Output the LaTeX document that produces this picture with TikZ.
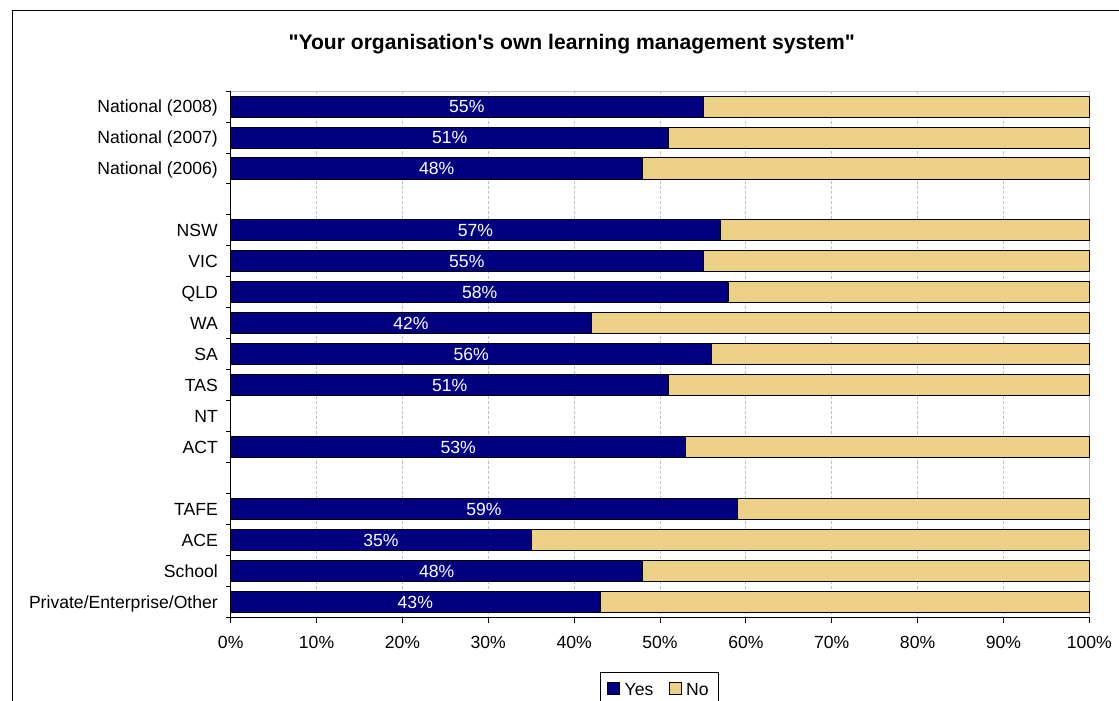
\documentclass[tikz,border=0pt]{standalone}
\usepackage{fontspec}
\setmainfont{Liberation Sans}[Ligatures=TeXOff]
\definecolor{yesblue}{RGB}{0,0,128}
\definecolor{notan}{RGB}{236,208,134}
\definecolor{gridgray}{RGB}{192,192,192}

\begin{document}
\begin{tikzpicture}[
    x=1pt, y=-1pt,
    lab/.style={font=\fontsize{17.6}{20}\selectfont, inner sep=0pt},
    catlab/.style={lab, anchor=base east},
    pctlab/.style={lab, anchor=base, text=white},
    axlab/.style={lab, anchor=base},
    yesbar/.style={draw=black, line width=0.8pt, fill=yesblue},
    nobar/.style={draw=black, line width=0.8pt, fill=notan},
    gridline/.style={gridgray, line width=0.8pt, dash pattern=on 3pt off 2pt},
    keybox/.style={draw=black, line width=0.8pt, minimum size=12pt, inner sep=0pt}
]
    \useasboundingbox (0,0) rectangle (1119,701);
    \clip (0,0) rectangle (1119,701);
    % chart frame (runs off the page right and bottom)
    \draw[line width=1pt] (12.5,10.5) rectangle (1130,712);
    \node[font=\fontsize{21.1}{24}\selectfont\bfseries, anchor=base, inner sep=0pt] (title)
        at (571.7,50) {"Your organisation's own learning management system"};

    \begin{scope}[shift={(230.7,91)}, x=8.586pt, y=-30.96pt]
    % grid
    \draw[gridline] (10,0) -- (10,17);
    \draw[gridline] (20,0) -- (20,17);
    \draw[gridline] (30,0) -- (30,17);
    \draw[gridline] (40,0) -- (40,17);
    \draw[gridline] (50,0) -- (50,17);
    \draw[gridline] (60,0) -- (60,17);
    \draw[gridline] (70,0) -- (70,17);
    \draw[gridline] (80,0) -- (80,17);
    \draw[gridline] (90,0) -- (90,17);
    \draw[gridgray, line width=0.8pt] (0,0) -- (100,0) -- (100,17);

    % bars
    \draw[yesbar] (0,0.16) rectangle (55,0.84);  \draw[nobar] (55,0.16) rectangle (100,0.84);
    \draw[yesbar] (0,1.16) rectangle (51,1.84);  \draw[nobar] (51,1.16) rectangle (100,1.84);
    \draw[yesbar] (0,2.16) rectangle (48,2.84);  \draw[nobar] (48,2.16) rectangle (100,2.84);
    \draw[yesbar] (0,4.16) rectangle (57,4.84);  \draw[nobar] (57,4.16) rectangle (100,4.84);
    \draw[yesbar] (0,5.16) rectangle (55,5.84);  \draw[nobar] (55,5.16) rectangle (100,5.84);
    \draw[yesbar] (0,6.16) rectangle (58,6.84);  \draw[nobar] (58,6.16) rectangle (100,6.84);
    \draw[yesbar] (0,7.16) rectangle (42,7.84);  \draw[nobar] (42,7.16) rectangle (100,7.84);
    \draw[yesbar] (0,8.16) rectangle (56,8.84);  \draw[nobar] (56,8.16) rectangle (100,8.84);
    \draw[yesbar] (0,9.16) rectangle (51,9.84);  \draw[nobar] (51,9.16) rectangle (100,9.84);
    \draw[yesbar] (0,11.16) rectangle (53,11.84); \draw[nobar] (53,11.16) rectangle (100,11.84);
    \draw[yesbar] (0,13.16) rectangle (59,13.84); \draw[nobar] (59,13.16) rectangle (100,13.84);
    \draw[yesbar] (0,14.16) rectangle (35,14.84); \draw[nobar] (35,14.16) rectangle (100,14.84);
    \draw[yesbar] (0,15.16) rectangle (48,15.84); \draw[nobar] (48,15.16) rectangle (100,15.84);
    \draw[yesbar] (0,16.16) rectangle (43,16.84); \draw[nobar] (43,16.16) rectangle (100,16.84);

    % values
    \node[pctlab] (v08) at (27.5,0.71) {55\%};
    \node[pctlab] (v07) at (25.5,1.71) {51\%};
    \node[pctlab] (v06) at (24,2.71) {48\%};
    \node[pctlab] (vnsw) at (28.5,4.71) {57\%};
    \node[pctlab] (vvic) at (27.5,5.71) {55\%};
    \node[pctlab] (vqld) at (29,6.71) {58\%};
    \node[pctlab] (vwa) at (21,7.71) {42\%};
    \node[pctlab] (vsa) at (28,8.71) {56\%};
    \node[pctlab] (vtas) at (25.5,9.71) {51\%};
    \node[pctlab] (vact) at (26.5,11.71) {53\%};
    \node[pctlab] (vtafe) at (29.5,13.71) {59\%};
    \node[pctlab] (vace) at (17.5,14.71) {35\%};
    \node[pctlab] (vschool) at (24,15.71) {48\%};
    \node[pctlab] (vpriv) at (21.5,16.71) {43\%};

    % axes and ticks
    \draw[line width=0.8pt] (0,0) -- (0,17) -- (100,17);
    \draw[line width=0.8pt] (-0.6,0) -- (0,0);   \draw[line width=0.8pt] (-0.6,1) -- (0,1);
    \draw[line width=0.8pt] (-0.6,2) -- (0,2);   \draw[line width=0.8pt] (-0.6,3) -- (0,3);
    \draw[line width=0.8pt] (-0.6,4) -- (0,4);   \draw[line width=0.8pt] (-0.6,5) -- (0,5);
    \draw[line width=0.8pt] (-0.6,6) -- (0,6);   \draw[line width=0.8pt] (-0.6,7) -- (0,7);
    \draw[line width=0.8pt] (-0.6,8) -- (0,8);   \draw[line width=0.8pt] (-0.6,9) -- (0,9);
    \draw[line width=0.8pt] (-0.6,10) -- (0,10); \draw[line width=0.8pt] (-0.6,11) -- (0,11);
    \draw[line width=0.8pt] (-0.6,12) -- (0,12); \draw[line width=0.8pt] (-0.6,13) -- (0,13);
    \draw[line width=0.8pt] (-0.6,14) -- (0,14); \draw[line width=0.8pt] (-0.6,15) -- (0,15);
    \draw[line width=0.8pt] (-0.6,16) -- (0,16); \draw[line width=0.8pt] (-0.6,17) -- (0,17);
    \draw[line width=0.8pt] (0,17) -- (0,17.17);   \draw[line width=0.8pt] (10,17) -- (10,17.17);
    \draw[line width=0.8pt] (20,17) -- (20,17.17); \draw[line width=0.8pt] (30,17) -- (30,17.17);
    \draw[line width=0.8pt] (40,17) -- (40,17.17); \draw[line width=0.8pt] (50,17) -- (50,17.17);
    \draw[line width=0.8pt] (60,17) -- (60,17.17); \draw[line width=0.8pt] (70,17) -- (70,17.17);
    \draw[line width=0.8pt] (80,17) -- (80,17.17); \draw[line width=0.8pt] (90,17) -- (90,17.17);
    \draw[line width=0.8pt] (100,17) -- (100,17.17);

    % category labels
    \node[catlab] (n08) at (-1.48,0.71) {National (2008)};
    \node[catlab] (n07) at (-1.48,1.71) {National (2007)};
    \node[catlab] (n06) at (-1.48,2.71) {National (2006)};
    \node[catlab] (nsw) at (-1.48,4.71) {NSW};
    \node[catlab] (vic) at (-1.48,5.71) {VIC};
    \node[catlab] (qld) at (-1.48,6.71) {QLD};
    \node[catlab] (wa) at (-1.48,7.71) {WA};
    \node[catlab] (sa) at (-1.48,8.71) {SA};
    \node[catlab] (tas) at (-1.48,9.71) {TAS};
    \node[catlab] (nt) at (-1.48,10.71) {NT};
    \node[catlab] (act) at (-1.48,11.71) {ACT};
    \node[catlab] (tafe) at (-1.48,13.71) {TAFE};
    \node[catlab] (ace) at (-1.48,14.71) {ACE};
    \node[catlab] (school) at (-1.48,15.71) {School};
    \node[catlab] (priv) at (-1.48,16.71) {Private/Enterprise/Other};

    % x labels
    \node[axlab] (x0) at (0,18.00) {0\%};
    \node[axlab] (x10) at (10,18.00) {10\%};
    \node[axlab] (x20) at (20,18.00) {20\%};
    \node[axlab] (x30) at (30,18.00) {30\%};
    \node[axlab] (x40) at (40,18.00) {40\%};
    \node[axlab] (x50) at (50,18.00) {50\%};
    \node[axlab] (x60) at (60,18.00) {60\%};
    \node[axlab] (x70) at (70,18.00) {70\%};
    \node[axlab] (x80) at (80,18.00) {80\%};
    \node[axlab] (x90) at (90,18.00) {90\%};
    \node[axlab] (x100) at (100,18.00) {100\%};
    \end{scope}

    % legend (cut off by the page bottom)
    \draw[line width=0.8pt] (600.7,672.7) rectangle (718.3,712);
    \node[keybox, fill=yesblue] (yeskey) at (613.8,688) {};
    \node[lab, anchor=base west] (yeslab) at (624.5,695) {Yes};
    \node[keybox, fill=notan] (nokey) at (675,688) {};
    \node[lab, anchor=base west] (nolab) at (686,695) {No};
\end{tikzpicture}
\end{document}
